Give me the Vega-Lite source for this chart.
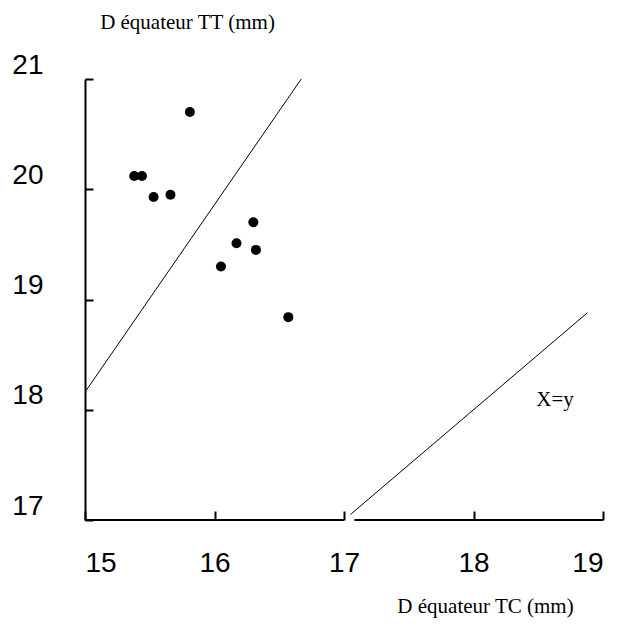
{
  "$schema": "https://vega.github.io/schema/vega-lite/v6.json",
  "width": 518,
  "height": 441,
  "autosize": "none",
  "padding": {"left": 85, "top": 79, "right": 20, "bottom": 108},
  "background": "white",
  "config": {"view": {"stroke": null}},
  "datasets": {
    "points": [
      {"tc": 15.38, "tt": 20.12},
      {"tc": 15.44, "tt": 20.12},
      {"tc": 15.53, "tt": 19.93},
      {"tc": 15.66, "tt": 19.95},
      {"tc": 15.81, "tt": 20.7},
      {"tc": 16.3, "tt": 19.7},
      {"tc": 16.17, "tt": 19.51},
      {"tc": 16.32, "tt": 19.45},
      {"tc": 16.05, "tt": 19.3},
      {"tc": 16.57, "tt": 18.84}
    ],
    "fit": [{"tc": 15, "tt": 18.16}, {"tc": 16.67, "tt": 21}],
    "identity": [{"tc": 17.05, "tt": 17.05}, {"tc": 18.88, "tt": 18.88}],
    "xaxis": [{"a": 15, "b": 17, "y": 17}, {"a": 17.08, "b": 19, "y": 17}],
    "label": [{"tc": 18.63, "tt": 18.09, "text": "X=y"}]
  },
  "layer": [
    {
      "data": {"name": "xaxis"},
      "mark": {"type": "rule", "strokeWidth": 2, "color": "black"},
      "encoding": {
        "x": {
          "field": "a", "type": "quantitative",
          "scale": {"domain": [15, 19], "nice": false, "zero": false},
          "axis": {
            "values": [15, 16, 17, 18, 19],
            "format": "d",
            "domain": false,
            "grid": false,
            "ticks": true,
            "tickSize": -9,
            "tickWidth": 2,
            "tickColor": "black",
            "labelFont": "Liberation Sans",
            "labelFontSize": 28,
            "labelColor": "black",
            "labelPadding": 38,
            "labelBaseline": "top",
            "title": "D équateur TC (mm)",
            "titleFont": "Liberation Serif",
            "titleFontSize": 21,
            "titleFontWeight": "normal",
            "titleColor": "black",
            "titleX": 400,
            "titleY": 86,
            "titleAlign": "center",
            "titleBaseline": "middle"
          }
        },
        "x2": {"field": "b"},
        "y": {
          "field": "y", "type": "quantitative",
          "scale": {"domain": [17, 21], "nice": false, "zero": false},
          "axis": {
            "values": [17, 18, 19, 20, 21],
            "format": "d",
            "domain": true,
            "domainWidth": 2,
            "domainColor": "black",
            "grid": false,
            "ticks": true,
            "tickSize": -8,
            "tickWidth": 2,
            "tickColor": "black",
            "labelFont": "Liberation Sans",
            "labelFontSize": 28,
            "labelColor": "black",
            "labelPadding": 50,
            "labelOffset": -14,
            "title": "D équateur TT (mm)",
            "titleFont": "Liberation Serif",
            "titleFontSize": 21,
            "titleFontWeight": "normal",
            "titleColor": "black",
            "titleAngle": 0,
            "titleX": 102,
            "titleY": -57,
            "titleAlign": "center",
            "titleBaseline": "middle"
          }
        }
      }
    },
    {
      "data": {"name": "fit"},
      "mark": {"type": "line", "color": "black", "strokeWidth": 1},
      "encoding": {
        "x": {"field": "tc", "type": "quantitative"},
        "y": {"field": "tt", "type": "quantitative"}
      }
    },
    {
      "data": {"name": "identity"},
      "mark": {"type": "line", "color": "black", "strokeWidth": 1},
      "encoding": {
        "x": {"field": "tc", "type": "quantitative"},
        "y": {"field": "tt", "type": "quantitative"}
      }
    },
    {
      "data": {"name": "points"},
      "mark": {"type": "circle", "color": "black", "opacity": 1, "size": 100},
      "encoding": {
        "x": {"field": "tc", "type": "quantitative"},
        "y": {"field": "tt", "type": "quantitative"}
      }
    },
    {
      "data": {"name": "label"},
      "mark": {"type": "text", "font": "Liberation Serif", "fontSize": 21, "color": "black", "align": "center", "baseline": "middle"},
      "encoding": {
        "x": {"field": "tc", "type": "quantitative"},
        "y": {"field": "tt", "type": "quantitative"},
        "text": {"field": "text"}
      }
    }
  ]
}
